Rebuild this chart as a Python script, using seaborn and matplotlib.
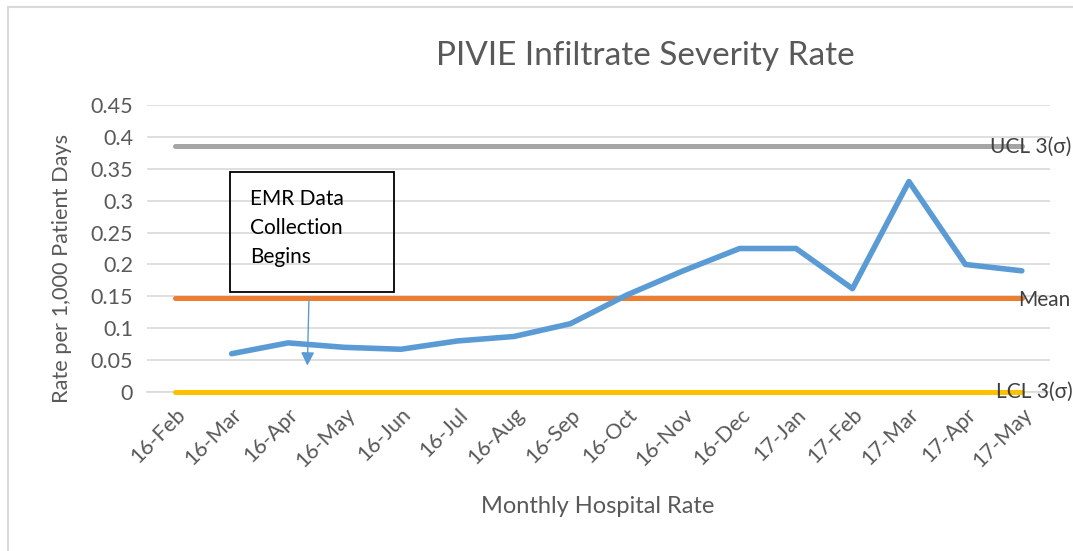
import numpy as np
import pandas as pd
import matplotlib
matplotlib.use('Agg')
import matplotlib.pyplot as plt
from matplotlib.patches import Rectangle
import seaborn as sns

# Datos
meses = ['16-Feb', '16-Mar', '16-Apr', '16-May', '16-Jun', '16-Jul', '16-Aug',
         '16-Sep', '16-Oct', '16-Nov', '16-Dec', '17-Jan', '17-Feb', '17-Mar',
         '17-Apr', '17-May']
meses_tasa = meses[1:]
tasa = [0.060, 0.077, 0.070, 0.067, 0.080, 0.087, 0.107, 0.152, 0.190,
        0.225, 0.225, 0.162, 0.330, 0.200, 0.190]
ucl_valor = 0.385
media_valor = 0.148
lcl_valor = 0.0

sns.set_theme(style='white')
plt.rcParams['font.family'] = ['Lato', 'DejaVu Sans']

gris_texto = '#595959'
gris_grid = '#d9d9d9'

fig = plt.figure(figsize=(10.73, 5.51), dpi=100)
ax = fig.add_axes([0.137, 0.2886, 0.8416, 0.5208])

# Líneas de control (constantes en todos los meses)
sns.lineplot(x=meses, y=[ucl_valor] * len(meses), ax=ax, color='#a5a5a5', lw=3.6, sort=False)
sns.lineplot(x=meses, y=[media_valor] * len(meses), ax=ax, color='#ed7d31', lw=3.6, sort=False)
sns.lineplot(x=meses, y=[lcl_valor] * len(meses), ax=ax, color='#ffc000', lw=3.6, sort=False)
# Serie mensual
sns.lineplot(x=meses_tasa, y=tasa, ax=ax, color='#5b9bd5', lw=4, sort=False)
for linea in ax.lines:
    linea.set_clip_on(False)
    linea.set_solid_capstyle('round')
    linea.set_zorder(3)

ax.set_xlim(-0.5, len(meses) - 0.5)
ax.set_ylim(0, 0.45)
ax.set_yticks(np.arange(0, 0.451, 0.05))
ax.set_yticklabels(['0', '0.05', '0.1', '0.15', '0.2', '0.25', '0.3', '0.35', '0.4', '0.45'])
ax.yaxis.grid(True, color=gris_grid, lw=1.2)
ax.set_axisbelow(True)

ax.set_xticks(range(len(meses)))
ax.set_xticklabels(meses, rotation=45, ha='right', rotation_mode='anchor')
ax.set_xticks(np.arange(-0.5, len(meses)), minor=True)
ax.tick_params(axis='x', which='major', length=0, pad=9, labelsize=15.5, colors=gris_texto)
ax.tick_params(axis='x', which='minor', length=5, width=1.2, color=gris_grid)
ax.tick_params(axis='y', length=0, pad=10, labelsize=15.5, colors=gris_texto)

for lado in ['left', 'right', 'top']:
    ax.spines[lado].set_visible(False)
ax.spines['bottom'].set_color(gris_grid)
ax.spines['bottom'].set_linewidth(1.2)
ax.spines['bottom'].set_zorder(1)

ax.set_xlabel('Monthly Hospital Rate', fontsize=17, color=gris_texto, va='center')
ax.xaxis.set_label_coords(0.499, -0.40)
ax.set_ylabel('Rate per 1,000 Patient Days', fontsize=15.7, color=gris_texto, va='center')
ax.yaxis.set_label_coords(-0.094, 0.432)
fig.text(0.601, 0.898, 'PIVIE Infiltrate Severity Rate', fontsize=24, color=gris_texto,
         ha='center', va='center')

# Etiquetas de las líneas de control
ax.text(14.43, ucl_valor, 'UCL 3(σ)', fontsize=15, color='#404040', va='center', ha='left', zorder=4)
ax.text(14.93, media_valor - 0.004, 'Mean', fontsize=15, color='#404040', va='center', ha='left', zorder=4)
ax.text(14.54, lcl_valor, 'LCL 3(σ)', fontsize=15, color='#404040', va='center', ha='left', zorder=4)

# Cuadro de texto con la flecha
ax.add_patch(Rectangle((0.97, 0.157), 2.91, 0.188, fill=False, edgecolor='black',
                       lw=1.3, zorder=5))
ax.text(1.33, 0.2023, 'EMR Data\nCollection\nBegins', fontsize=15, color='black',
        va='baseline', ha='left', linespacing=1.55, zorder=6)
ax.annotate('', xy=(2.34, 0.037), xytext=(2.37, 0.148),
            arrowprops=dict(arrowstyle='-|>', color='#5b9bd5', lw=1, mutation_scale=20),
            zorder=6)

# Borde exterior del gráfico
fig.patches.append(Rectangle((0.007, -0.05), 1.1, 1.038, transform=fig.transFigure,
                             fill=False, edgecolor=gris_grid, lw=1.5))

fig.savefig('out.png', dpi=100)
